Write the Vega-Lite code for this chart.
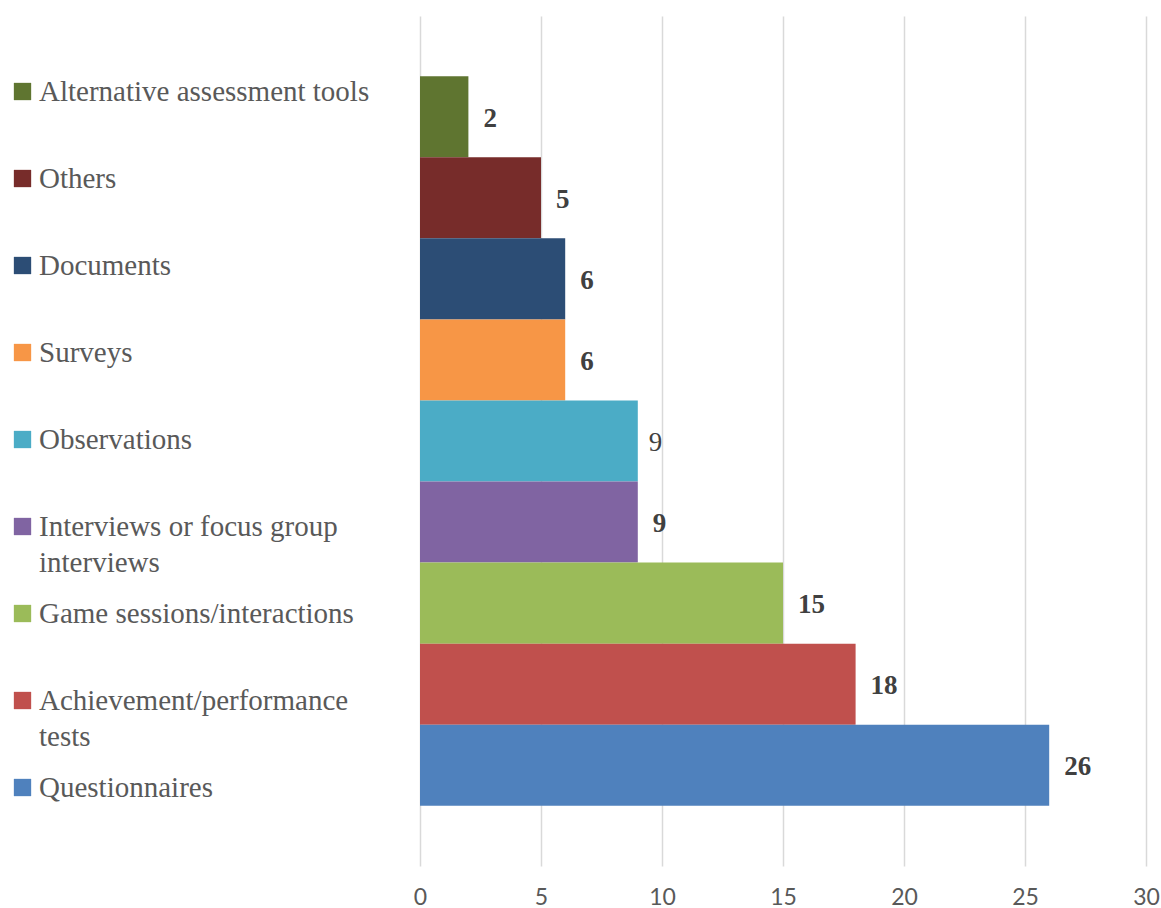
{
  "$schema": "https://vega.github.io/schema/vega-lite/v6.json",
  "width": 726,
  "height": 850,
  "autosize": {"type": "none"},
  "padding": {"left": 420, "top": 16, "right": 15, "bottom": 42},
  "background": "white",
  "config": {"view": {"stroke": null}},
  "data": {
    "values": [
      {"method": "Alternative assessment tools", "count": 2},
      {"method": "Others", "count": 5},
      {"method": "Documents", "count": 6},
      {"method": "Surveys", "count": 6},
      {"method": "Observations", "count": 9},
      {"method": "Interviews or focus group interviews", "count": 9},
      {"method": "Game sessions/interactions", "count": 15},
      {"method": "Achievement/performance tests", "count": 18},
      {"method": "Questionnaires", "count": 26}
    ]
  },
  "encoding": {
    "y": {
      "field": "method",
      "type": "nominal",
      "sort": ["Alternative assessment tools", "Others", "Documents", "Surveys", "Observations", "Interviews or focus group interviews", "Game sessions/interactions", "Achievement/performance tests", "Questionnaires"],
      "axis": null,
      "scale": {"paddingInner": 0, "paddingOuter": 0.7425}
    },
    "x": {
      "field": "count",
      "type": "quantitative",
      "scale": {"domain": [0, 30], "nice": false},
      "axis": {
        "values": [0, 5, 10, 15, 20, 25, 30],
        "domain": false,
        "ticks": false,
        "tickSize": 0,
        "grid": true,
        "gridColor": "#d9d9d9",
        "gridWidth": 1.5,
        "labelFlush": false,
        "labelFont": "Lato",
        "labelFontSize": 23,
        "labelColor": "#595959",
        "labelPadding": 20,
        "title": null
      }
    }
  },
  "layer": [
    {
      "mark": {"type": "bar"},
      "encoding": {
        "color": {
          "field": "method",
          "type": "nominal",
          "scale": {
            "domain": ["Alternative assessment tools", "Others", "Documents", "Surveys", "Observations", "Interviews or focus group interviews", "Game sessions/interactions", "Achievement/performance tests", "Questionnaires"],
            "range": ["#5F7530", "#772C2A", "#2C4D75", "#F79646", "#4BACC6", "#8064A2", "#9BBB59", "#C0504D", "#4F81BD"]
          },
          "legend": {
            "orient": "none",
            "legendX": -412,
            "legendY": 61,
            "title": null,
            "padding": 0,
            "symbolType": "square",
            "symbolSize": 300,
            "symbolStrokeWidth": 0,
            "symbolOpacity": 1,
            "labelFont": "Liberation Serif",
            "labelFontSize": 29,
            "labelColor": "#595959",
            "labelLimit": 400,
            "labelOffset": 2,
            "rowPadding": 21,
            "labelExpr": "datum.label == 'Interviews or focus group interviews' ? ['Interviews or focus group', 'interviews'] : datum.label == 'Achievement/performance tests' ? ['Achievement/performance', 'tests'] : [datum.label, '']",
            "encode": {"labels": {"update": {"lineHeight": {"value": 36}}}}
          }
        }
      }
    },
    {
      "transform": [{"filter": "datum.method != 'Observations'"}],
      "mark": {"type": "text", "align": "left", "baseline": "middle", "dx": 15, "dy": 2, "font": "Liberation Serif", "fontSize": 27, "fontWeight": "bold", "color": "#404040"},
      "encoding": {"text": {"field": "count", "type": "quantitative"}}
    },
    {
      "transform": [{"filter": "datum.method == 'Observations'"}],
      "mark": {"type": "text", "align": "left", "baseline": "middle", "dx": 11, "dy": 2, "font": "Liberation Serif", "fontSize": 27, "fontWeight": "normal", "color": "#404040"},
      "encoding": {"text": {"field": "count", "type": "quantitative"}}
    }
  ]
}
